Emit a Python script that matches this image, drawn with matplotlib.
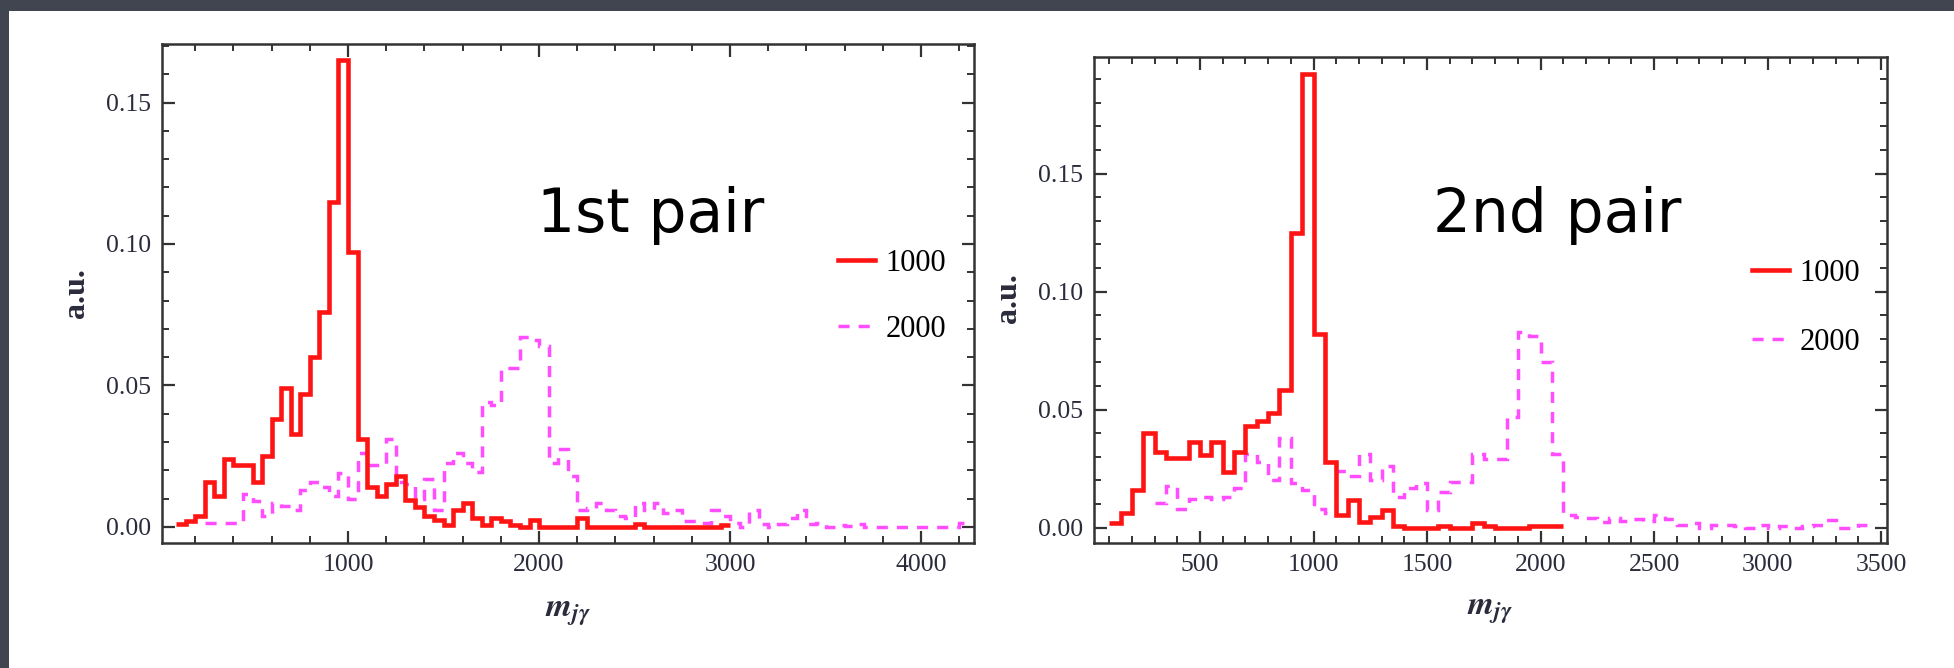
import numpy as np
import matplotlib
matplotlib.use("Agg")
import matplotlib.pyplot as plt
from matplotlib.patches import Rectangle
from matplotlib.ticker import MultipleLocator, FormatStrFormatter

plt.rcParams['font.family'] = ['Liberation Serif', 'DejaVu Serif']
plt.rcParams['mathtext.fontset'] = 'stix'

BIN = 50

# 1st pair: histograms (bin width 50), starting edges
left_red_start = 100
left_red = [0.001, 0.002, 0.004, 0.016, 0.011, 0.024, 0.022, 0.022, 0.016, 0.025,
            0.038, 0.049, 0.033, 0.047, 0.060, 0.076, 0.115, 0.165, 0.097, 0.031,
            0.014, 0.011, 0.015, 0.018, 0.0095, 0.007, 0.004, 0.0025, 0.0005, 0.006,
            0.0086, 0.003, 0.0005, 0.003, 0.0022, 0.0007, 0.0, 0.0026, 0.0, 0.0,
            0.0, 0.0, 0.003, 0.0, 0.0, 0.0, 0.0, 0.0, 0.001, 0.0,
            0.0, 0.0, 0.0, 0.0, 0.0, 0.0, 0.0, 0.0008]
left_mag_start = 250
left_mag = [0.0013, 0.0013, 0.0013, 0.0013, 0.0115, 0.009, 0.004, 0.0084, 0.0075, 0.006,
            0.013, 0.016, 0.014, 0.011, 0.019, 0.010, 0.026, 0.022, 0.022, 0.031,
            0.016, 0.015, 0.010, 0.017, 0.006, 0.0225, 0.026, 0.0225, 0.0195, 0.044,
            0.043, 0.056, 0.056, 0.067, 0.066, 0.064, 0.0225, 0.0275, 0.018, 0.006,
            0.0065, 0.0085, 0.006, 0.004, 0.003, 0.0085, 0.006, 0.0085, 0.005, 0.006,
            0.002, 0.002, 0.0015, 0.006, 0.0037, 0.0015, 0.0, 0.006, 0.001, 0.0,
            0.001, 0.003, 0.006, 0.001, 0.0013, 0.0, 0.0005, 0.0003, 0.001, 0.0,
            0.0, 0.0, 0.0, 0.0, 0.0, 0.0, 0.0, 0.0, 0.0, 0.0013]

# 2nd pair
right_red_start = 100
right_red = [0.002, 0.006, 0.016, 0.040, 0.032, 0.0294, 0.0294, 0.0365, 0.0308, 0.0365,
             0.0237, 0.032, 0.043, 0.045, 0.0487, 0.0583, 0.125, 0.192, 0.082, 0.028,
             0.0054, 0.0117, 0.0026, 0.0047, 0.0075, 0.0005, 0.0, 0.0, 0.0, 0.0005,
             0.0, 0.0, 0.002, 0.0005, 0.0, 0.0, 0.0, 0.0005, 0.0005, 0.0005]
right_mag_start = 300
right_mag = [0.0105, 0.0175, 0.008, 0.012, 0.013, 0.012, 0.013, 0.017, 0.031, 0.028,
             0.020, 0.038, 0.019, 0.016, 0.008, 0.006, 0.024, 0.022, 0.031, 0.020,
             0.026, 0.013, 0.017, 0.019, 0.0075, 0.015, 0.0195, 0.0195, 0.031, 0.029,
             0.029, 0.047, 0.083, 0.081, 0.070, 0.031, 0.0055, 0.0045, 0.004, 0.0025,
             0.004, 0.003, 0.0035, 0.003, 0.0055, 0.0035, 0.001, 0.002, 0.0, 0.001,
             0.001, 0.0005, 0.0, 0.001, 0.0, 0.0005, 0.0, 0.0005, 0.001, 0.0033,
             0.0, 0.0, 0.001]

labels = ['1000', '2000']
titles = ['1st pair', '2nd pair']

RED = '#ff1414'
MAG = '#ff4dff'
FRAME = '#333333'
TXT = '#2a2c3c'

W, H = 1954, 668
fig = plt.figure(figsize=(W / 100, H / 100), dpi=100)
fig.patch.set_facecolor('#41454f')
fig.patches.append(Rectangle((9 / W, 0), 1 - 9 / W, 1 - 11 / H, transform=fig.transFigure,
                             facecolor='white', edgecolor='none', zorder=-10))


def px_axes(l, t, r, b):
    return fig.add_axes([l / W, 1 - b / H, (r - l) / W, (b - t) / H])


def edges(start, vals):
    return start + BIN * np.arange(len(vals) + 1)


panels = [
    dict(box=(162, 44, 974, 543), xlim=(26, 4277), ylim=(-0.0057, 0.1707),
         red=(left_red_start, left_red), mag=(left_mag_start, left_mag),
         xmaj=1000, xmin=200, title_xy=(0.462, 0.623), leg=(838, 249), sp=1.2,
         ylab=(-0.088, 0.501)),
    dict(box=(1094, 57, 1887, 543), xlim=(33, 3526), ylim=(-0.0065, 0.1994),
         red=(right_red_start, right_red), mag=(right_mag_start, right_mag),
         xmaj=500, xmin=100, title_xy=(0.428, 0.64), leg=(1752, 259), sp=1.3,
         ylab=(-0.09, 0.504)),
]

for p, title in zip(panels, titles):
    ax = px_axes(*p['box'])
    rs, rv = p['red']
    ms, mv = p['mag']
    ax.stairs(mv, edges(ms, mv), baseline=None, color=MAG, lw=2.5,
              linestyle=(0, (3.2, 2.6)), label=labels[1], zorder=2)
    ax.stairs(rv, edges(rs, rv), baseline=None, color=RED, lw=3.3, label=labels[0], zorder=3)
    ax.set_xlim(*p['xlim'])
    ax.set_ylim(*p['ylim'])

    ax.xaxis.set_major_locator(MultipleLocator(p['xmaj']))
    ax.xaxis.set_minor_locator(MultipleLocator(p['xmin']))
    ax.yaxis.set_major_locator(MultipleLocator(0.05))
    ax.yaxis.set_minor_locator(MultipleLocator(0.01))
    ax.yaxis.set_major_formatter(FormatStrFormatter('%.2f'))
    ax.tick_params(which='both', direction='in', top=True, right=True, color=FRAME,
                   labelsize=18.5, labelcolor=TXT)
    ax.tick_params(which='major', length=9, width=1.6, pad=8)
    ax.tick_params(which='minor', length=5, width=1.4)
    for s in ax.spines.values():
        s.set_color(FRAME)
        s.set_linewidth(1.8)

    ax.set_ylabel('a.u.', fontsize=23, fontweight='bold', color=TXT)
    ax.yaxis.set_label_coords(*p['ylab'])
    ax.set_xlabel(r'$\mathbfit{m}_{\mathbfit{j\gamma}}$', fontsize=24, color=TXT)
    ax.xaxis.label.set_va('center')
    ax.xaxis.set_label_coords(0.5, -0.14)

    ax.text(*p['title_xy'], title, transform=ax.transAxes, fontsize=43,
            family='DejaVu Sans', color='black', va='baseline', ha='left')

    h, l = ax.get_legend_handles_labels()
    order = [1, 0]
    lx, ly = p['leg']
    ax.legend([h[i] for i in order], [l[i] for i in order], loc='upper left',
              bbox_to_anchor=(lx / W, 1 - ly / H), bbox_transform=fig.transFigure,
              frameon=False, fontsize=22, handlelength=1.2, handletextpad=0.35,
              labelspacing=p['sp'], borderpad=0, borderaxespad=0)

fig.savefig('out.png', dpi=100, facecolor=fig.get_facecolor())
